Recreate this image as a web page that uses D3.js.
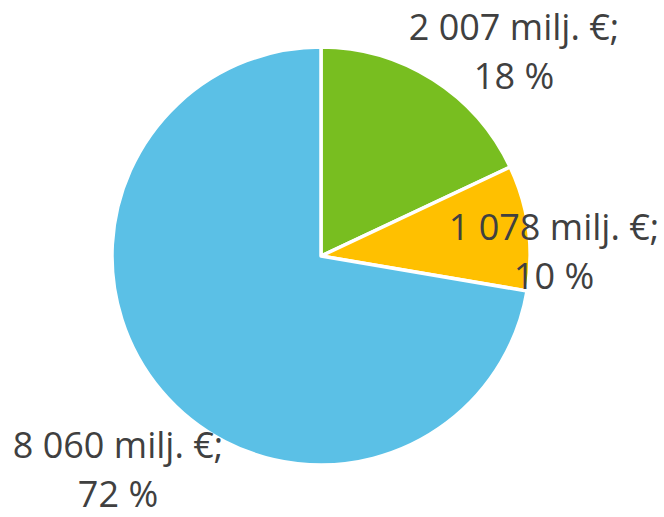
<!DOCTYPE html>
<html>
<head>
<meta charset="utf-8">
<script src="https://cdn.jsdelivr.net/npm/d3@7"></script>
<style>
  body { margin: 0; background: #fff; }
  text { font-family: "Open Sans", "Noto Sans", sans-serif; fill: #404040; }
</style>
</head>
<body>
<script>
const width = 664, height = 517;
const cx = 321, cy = 256, radius = 209;

// data
var categories = ["A", "B", "C"];
var values = [2007, 1078, 8060];            // milj. €
var percents = ["18 %", "10 %", "72 %"];
var colors = ["#78BE20", "#FFC000", "#5BC0E6"];

// label baselines relative to the pie centre (layout only)
var labelOffsets = [[193, -216], [233, -16], [-203, 202]];

var svg = d3.select("body").append("svg")
    .attr("width", width)
    .attr("height", height)
  .append("g")
    .attr("transform", "translate(" + cx + "," + cy + ")");

var pie = d3.pie().sort(null).value(function(d) { return d; });
var arc = d3.arc().innerRadius(0).outerRadius(radius);

var slices = pie(values);

svg.selectAll(".slice")
    .data(slices)
  .enter().append("path")
    .attr("class", "slice")
    .attr("d", arc)
    .attr("fill", function(d, i) { return colors[i]; })
    .attr("stroke", "#fff")
    .attr("stroke-width", 3.5)
    .attr("stroke-linejoin", "round");

var fmt = function(v) { return d3.format(",")(v).replace(",", " "); };

var labels = svg.selectAll(".label")
    .data(slices)
  .enter().append("text")
    .attr("class", "label")
    .attr("text-anchor", "middle")
    .attr("font-size", 36)
    .attr("transform", function(d, i) {
        return "translate(" + labelOffsets[i][0] + "," + labelOffsets[i][1] + ")";
    });

labels.append("tspan")
    .attr("x", 0)
    .attr("dy", 0)
    .text(function(d) { return fmt(d.data) + " milj. €;"; });

labels.append("tspan")
    .attr("x", 0)
    .attr("dy", 49)
    .text(function(d, i) { return percents[i]; });
</script>
</body>
</html>
